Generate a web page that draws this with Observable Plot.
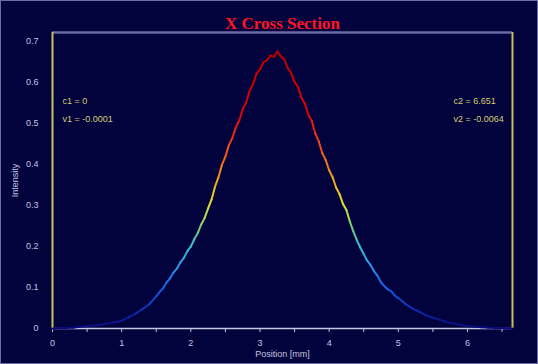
<!DOCTYPE html>
<html><head><meta charset="utf-8">
<script src="https://cdn.jsdelivr.net/npm/d3@7"></script>
<script src="https://cdn.jsdelivr.net/npm/@observablehq/plot@0.6"></script>
<style>
html,body{margin:0;padding:0;background:#02023c;}
#chart svg{display:block;outline:1px solid #6c6ca8;outline-offset:-1px;}
</style></head><body><div id="chart"></div>
<script>
const titleText = "X Cross Section";
const xLabel = "Position [mm]";
const yLabel = "Intensity";
const xMinorTicks = [0, 0.5, 1, 1.5, 2, 2.5, 3, 3.5, 4, 4.5, 5, 5.5, 6, 6.5];
const yTicks = [0, 0.1, 0.2, 0.3, 0.4, 0.5, 0.6, 0.7];
const xDomain = [0, 6.651];
const yDomain = [0, 0.72];
const cursorNames = ["c1", "c2"];
const cursorPositions = [0, 6.651];
const valueNames = ["v1", "v2"];
const cursorValues = [-0.0001, -0.0064];

const positions = [
  0.0,0.1,0.2,0.3,0.4,0.5,0.6,0.7,0.8,0.9,1.0,1.1,1.2,1.3,1.4,
  1.5,1.55,1.6,1.65,1.7,1.75,1.8,1.85,1.9,1.95,2.0,
  2.05,2.1,2.15,2.2,2.25,2.3,2.35,2.4,2.45,2.5,
  2.55,2.6,2.65,2.7,2.75,2.8,2.85,2.9,2.95,3.0,
  3.05,3.1,3.15,3.2,3.25,3.3,3.35,3.4,3.45,3.5,
  3.55,3.6,3.65,3.7,3.75,3.8,3.85,3.9,3.95,4.0,
  4.05,4.1,4.15,4.2,4.25,4.3,4.35,4.4,4.45,4.5,
  4.55,4.6,4.65,4.7,4.75,4.8,4.85,4.9,4.95,5.0,
  5.1,5.2,5.3,5.4,5.5,5.6,5.7,5.8,5.9,6.0,6.1,6.2,6.3,6.4,6.5,6.6,6.651
];
const intensity = [
  0.000,0.001,0.001,0.002,0.004,0.006,0.007,0.009,0.012,0.015,0.019,0.027,0.036,0.047,0.059,
  0.078,0.089,0.098,0.112,0.122,0.136,0.146,0.161,0.172,0.188,0.199,
  0.217,0.232,0.253,0.269,0.292,0.314,0.345,0.368,0.398,0.418,
  0.446,0.463,0.489,0.506,0.533,0.549,0.578,0.595,0.620,0.630,
  0.648,0.652,0.664,0.661,0.674,0.662,0.655,0.634,0.622,0.600,
  0.587,0.561,0.546,0.520,0.505,0.474,0.455,0.427,0.410,0.385,
  0.368,0.343,0.327,0.303,0.288,0.260,0.236,0.215,0.197,0.181,
  0.165,0.154,0.139,0.128,0.112,0.103,0.095,0.090,0.080,0.074,
  0.060,0.049,0.041,0.032,0.026,0.021,0.016,0.012,0.009,0.006,0.005,0.003,0.002,0.001,0.001,0.000,0.000
];

const colorStops = [0, 0.05, 0.1, 0.15, 0.2, 0.25, 0.3, 0.35, 0.4, 0.45, 0.5];
const colorRange = ["#0a0a78","#1030b8","#1a5ee8","#2894ec","#34c0d0","#78d070","#e4e030","#f0b020","#f07420","#f04418","#e41410"];

const points = positions.map((x, i) => ({x, y: intensity[i]}));
const segments = d3.pairs(points).map(([a, b]) => ({x1: a.x, y1: a.y, x2: b.x, y2: b.y, v: (a.y + b.y) / 2}));

const leftNotes = [`${cursorNames[0]} = ${cursorPositions[0]}`, `${valueNames[0]} = ${cursorValues[0]}`];
const rightNotes = [`${cursorNames[1]} = ${cursorPositions[1]}`, `${valueNames[1]} = ${cursorValues[1]}`];
const noteStyle = {fill: "#d4d070", fontSize: 9, textAnchor: "start"};

const chart = Plot.plot({
  width: 538,
  height: 364,
  marginLeft: 52,
  marginRight: 26,
  marginTop: 32,
  marginBottom: 36,
  style: {background: "#02023c", color: "#c4c4e0", fontFamily: "Liberation Sans, Arial, sans-serif", fontSize: "9px"},
  x: {domain: xDomain, ticks: xMinorTicks, tickFormat: d => Number.isInteger(d) ? String(d) : "", tickSize: 4, tickPadding: 7, label: xLabel, labelAnchor: "center", labelOffset: 28, labelArrow: "none"},
  y: {domain: yDomain, ticks: yTicks, tickFormat: d => d === 0 ? "0" : d3.format(".1f")(d), tickSize: 0, tickPadding: 14, label: yLabel, labelAnchor: "center", labelOffset: 41, labelArrow: "none"},
  color: {type: "linear", domain: colorStops, range: colorRange, interpolate: "rgb"},
  marks: [
    Plot.ruleY([yDomain[1]], {stroke: "#6a6aa8", strokeWidth: 2.5}),
    Plot.ruleY([0], {stroke: "#c8c8e4", strokeWidth: 1.5}),
    Plot.ruleX([xDomain[0]], {stroke: "#c8c058", strokeWidth: 2}),
    Plot.ruleX([xDomain[1]], {stroke: "#c8c058", strokeWidth: 2}),
    Plot.link(segments, {x1: "x1", y1: "y1", x2: "x2", y2: "y2", stroke: "v", strokeWidth: 2, strokeLinecap: "round"}),
    Plot.text([leftNotes[0]], {...noteStyle, frameAnchor: "top-left", dx: 10, dy: 65}),
    Plot.text([leftNotes[1]], {...noteStyle, frameAnchor: "top-left", dx: 10, dy: 83}),
    Plot.text([rightNotes[0]], {...noteStyle, frameAnchor: "top-right", dx: -59, dy: 65}),
    Plot.text([rightNotes[1]], {...noteStyle, frameAnchor: "top-right", dx: -59, dy: 83}),
    Plot.text([titleText], {frameAnchor: "top", dy: -16, fill: "#ff1424", fontSize: 17, fontWeight: "bold", fontFamily: "Liberation Serif, Times New Roman, serif"})
  ]
});
document.getElementById("chart").appendChild(chart);
</script></body></html>
